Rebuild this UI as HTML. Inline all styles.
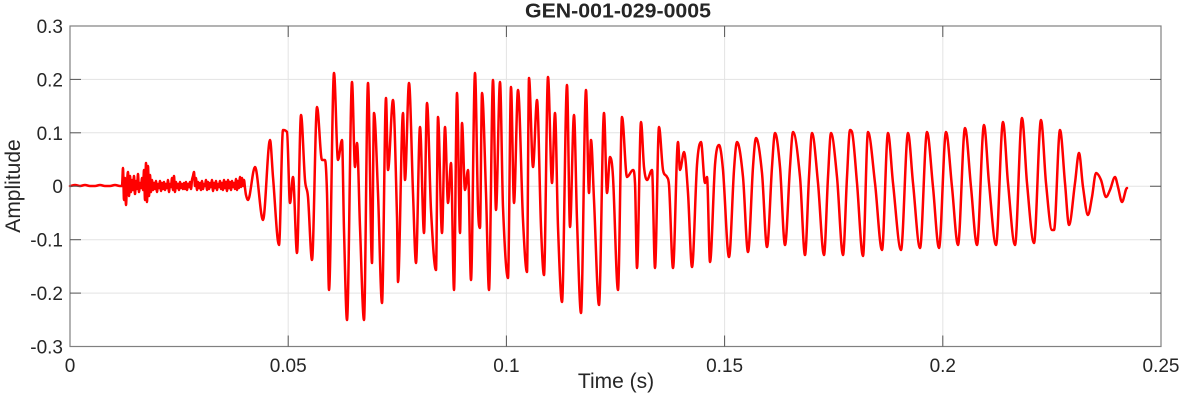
<!DOCTYPE html>
<html>
<head>
<meta charset="utf-8">
<style>
html,body{margin:0;padding:0;background:#fff;}
svg{display:block;}
text{font-family:"Liberation Sans",Arial,sans-serif;fill:#262626;}
</style>
</head>
<body>
<svg id="chart" width="1182" height="404" viewBox="0 0 1182 404" xmlns="http://www.w3.org/2000/svg">
<rect x="0" y="0" width="1182" height="404" fill="#fff"/>
<!-- grid -->
<g stroke="#e3e3e3" stroke-width="1">
<line x1="288.2" y1="26" x2="288.2" y2="346.5"/>
<line x1="506.4" y1="26" x2="506.4" y2="346.5"/>
<line x1="724.6" y1="26" x2="724.6" y2="346.5"/>
<line x1="942.8" y1="26" x2="942.8" y2="346.5"/>
<line x1="70" y1="79.4" x2="1161" y2="79.4"/>
<line x1="70" y1="132.8" x2="1161" y2="132.8"/>
<line x1="70" y1="186.25" x2="1161" y2="186.25"/>
<line x1="70" y1="239.7" x2="1161" y2="239.7"/>
<line x1="70" y1="293.1" x2="1161" y2="293.1"/>
</g>
<!-- waveform -->
<polyline id="wave" fill="none" stroke="#ff0000" stroke-width="2.5" stroke-linejoin="round" stroke-linecap="round" points="
70,186 75,185 80,186 85,185 90,186 95,186 100,185 105,186 110,186 115,185 120,186 122,186
123,168 124,200 125,178 126,205 127,183 128,172 129,196 130,176 131,192 132,180 133,190 134,176 135,194 136,181 137,189 138,174 139,192 140,183 141,188 142,178 143,190 144,170 145,200 146,163 147,202 148,166 149,196 150,175 151,192 152,180 153,190 154,183 155,189 156,181 157,192 158,184 159,188 160,181 161,191 162,183 163,189 164,182 165,190 166,184 167,188 168,180 169,192 170,184 171,187 172,178 173,190 174,176 175,192 176,182 177,188 178,184 179,190 180,182 181,188 182,184 183,189 184,183 185,189 186,182 187,190 188,184 189,187 190,182 191,189 192,180 193,176 194,172 195,186 196,178 197,190 198,182 199,188 200,183 201,190 202,181 203,189 204,184 205,186 206,180 207,190 208,182 209,189 210,183 211,187 212,180 213,191 214,183 215,188 216,181 217,190 218,184 219,187 220,181 221,189 222,183 223,190 224,180 225,188 226,182 227,191 228,180 229,188 230,182 231,190 232,181 233,187 234,183 235,189 236,179 237,190 238,181 239,188 240,177 241,187 242,178 243,186 244,180 245,188 246,195 248,200
255,167 263,220 270,140 273,177 279,245 283,130 287,132 290,203 293,177 297,253 301,115 305,180 308,197 312,260 317,107 322,160 325,160 327,193 329,290 334,73 338,160 342,140 344,230 347,320 352,82 355,167 357,143 360,227 364,320 368,83 372,263 374,113 378,193 382,303 386,98 388,170 393,100 397,217 398,282 403,113 405,180 409,83 413,193 416,263 420,127 424,233 427,103 431,210 436,270
438,117 442,233 445,127 448,203 451,163 454,290 457,93 460,233 462,123 465,190 468,170 471,280 475,73 478,207 480,228 482,93 486,193 489,290 493,80 496,210 500,82 503,207 508,278 511,87 514,203 518,90 523,220 527,272 529,78 533,167 537,100 541,227 544,275 548,77 552,183 555,113 558,227 562,302 567,85 570,227 574,115 577,220 581,313 586,90 589,193 591,140 594,200 599,305 604,113 607,193 610,157 613,177 618,290 622,117
627,177 633,170 635,183 637,268 641,122 644,167 647,180 652,170 655,268 659,127 663,170 667,177 669,185 673,268 678,142 680,170 684,152 688,193 692,267 697,165 701,142 705,183 707,177 710,262 715,165 719,145 723,170 729,257 734,170 737,142 743,177 748,252 753,167 756,138 762,173 767,247 772,167 775,133 780,167 785,245 790,167 793,132 800,177 805,255 809,177 812,133 818,183 824,255 828,177 831,133 837,177 843,255 847,177 850,130
852,132 857,183 863,256 868,132 875,183 882,250 888,133 893,183 901,250 908,133 913,183 920,248 927,132 933,187 939,248 946,132 952,187 958,245 965,128 971,187 977,245 984,125 989,183 996,245 1003,122 1008,183 1015,245 1022,118 1027,183 1034,243 1041,120 1046,183 1052,230 1054,230 1060,130 1065,183 1069,225 1075,183 1079,153 1083,187 1088,215 1092,197 1096,173 1101,180 1106,197 1110,190 1115,177 1118,187 1122,202 1127,188"/>
<!-- frame -->
<rect x="70" y="26" width="1091" height="320.5" fill="none" stroke="#808080" stroke-width="1.2"/>
<!-- ticks -->
<g stroke="#555" stroke-width="1">
<line x1="288.2" y1="346.5" x2="288.2" y2="335.5"/>
<line x1="506.4" y1="346.5" x2="506.4" y2="335.5"/>
<line x1="724.6" y1="346.5" x2="724.6" y2="335.5"/>
<line x1="942.8" y1="346.5" x2="942.8" y2="335.5"/>
<line x1="288.2" y1="26" x2="288.2" y2="37"/>
<line x1="506.4" y1="26" x2="506.4" y2="37"/>
<line x1="724.6" y1="26" x2="724.6" y2="37"/>
<line x1="942.8" y1="26" x2="942.8" y2="37"/>
<line x1="70" y1="79.4" x2="81" y2="79.4"/>
<line x1="70" y1="132.8" x2="81" y2="132.8"/>
<line x1="70" y1="186.25" x2="81" y2="186.25"/>
<line x1="70" y1="239.7" x2="81" y2="239.7"/>
<line x1="70" y1="293.1" x2="81" y2="293.1"/>
<line x1="1161" y1="79.4" x2="1150" y2="79.4"/>
<line x1="1161" y1="132.8" x2="1150" y2="132.8"/>
<line x1="1161" y1="186.25" x2="1150" y2="186.25"/>
<line x1="1161" y1="239.7" x2="1150" y2="239.7"/>
<line x1="1161" y1="293.1" x2="1150" y2="293.1"/>
</g>
<!-- y tick labels -->
<g font-size="19" text-anchor="end">
<text x="63" y="33">0.3</text>
<text x="63" y="86.4">0.2</text>
<text x="63" y="139.8">0.1</text>
<text x="63" y="193.2">0</text>
<text x="63" y="246.7">-0.1</text>
<text x="63" y="300.1">-0.2</text>
<text x="63" y="353.5">-0.3</text>
</g>
<!-- x tick labels -->
<g font-size="19" text-anchor="middle">
<text x="70" y="372">0</text>
<text x="288.2" y="372">0.05</text>
<text x="506.4" y="372">0.1</text>
<text x="724.6" y="372">0.15</text>
<text x="942.8" y="372">0.2</text>
<text x="1161" y="372">0.25</text>
</g>
<!-- labels -->
<text x="616" y="388" font-size="21" text-anchor="middle">Time (s)</text>
<text transform="translate(20,186) rotate(-90)" font-size="21" text-anchor="middle">Amplitude</text>
<text x="618" y="17.5" font-size="20" font-weight="bold" text-anchor="middle" textLength="186" lengthAdjust="spacingAndGlyphs" fill="#111">GEN-001-029-0005</text>
</svg>
<script>
(function(){
  var pl = document.getElementById('wave');
  if(!pl) return;
  var raw = pl.getAttribute('points').trim().split(/\s+/);
  var P = [];
  for (var i=0;i<raw.length;i++){var a=raw[i].split(',');P.push([+a[0],+a[1]]);}
  var n=P.length, m=[];
  for (var i=0;i<n;i++){
    if(i===0||i===n-1){m.push(0);continue;}
    var y0=P[i-1][1],y1=P[i][1],y2=P[i+1][1];
    if((y1-y0)*(y2-y1)<=0){m.push(0);}
    else{
      var s=(y2-y0)/(P[i+1][0]-P[i-1][0]);
      // limit slope to avoid overshoot
      var s1=(y1-y0)/(P[i][0]-P[i-1][0]), s2=(y2-y1)/(P[i+1][0]-P[i][0]);
      var lim=3*Math.min(Math.abs(s1),Math.abs(s2));
      if(Math.abs(s)>lim) s=s>0?lim:-lim;
      m.push(s);
    }
  }
  var d='M'+P[0][0]+','+P[0][1];
  for (var i=0;i<n-1;i++){
    var dx=P[i+1][0]-P[i][0];
    var c1x=P[i][0]+dx/3, c1y=P[i][1]+m[i]*dx/3;
    var c2x=P[i+1][0]-dx/3, c2y=P[i+1][1]-m[i+1]*dx/3;
    d+=' C'+c1x.toFixed(2)+','+c1y.toFixed(2)+' '+c2x.toFixed(2)+','+c2y.toFixed(2)+' '+P[i+1][0]+','+P[i+1][1];
  }
  var ns='http://www.w3.org/2000/svg';
  var path=document.createElementNS(ns,'path');
  path.setAttribute('d',d);
  path.setAttribute('fill','none');
  path.setAttribute('stroke','#ff0000');
  path.setAttribute('stroke-width','2.5');
  path.setAttribute('stroke-linejoin','round');
  path.setAttribute('stroke-linecap','round');
  pl.parentNode.replaceChild(path,pl);
})();
</script>
</body>
</html>
